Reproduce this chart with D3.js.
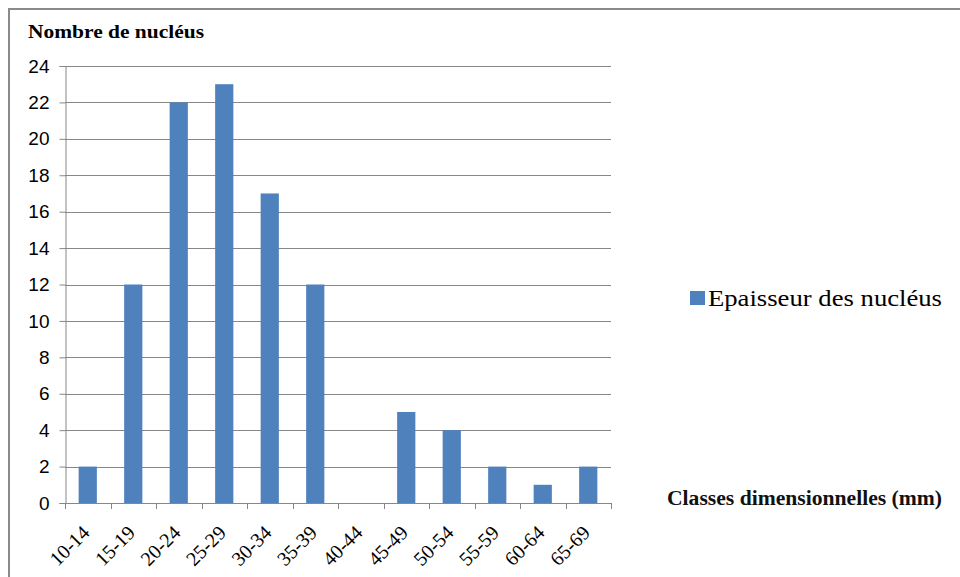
<!DOCTYPE html>
<html><head><meta charset="utf-8">
<script src="https://cdn.jsdelivr.net/npm/d3@7"></script>
<style>body{margin:0;background:#fff;} svg{display:block;}</style>
</head><body>
<svg id="chart" width="960" height="577"></svg>
<script>
const categories = ["10-14","15-19","20-24","25-29","30-34","35-39","40-44","45-49","50-54","55-59","60-64","65-69"];
const values = [2,12,22,23,17,12,0,5,4,2,1,2];
const yTicks = [0,2,4,6,8,10,12,14,16,18,20,22,24];
const seriesName = "Epaisseur des nucléus";
const yTitle = "Nombre de nucléus";
const xTitle = "Classes dimensionnelles (mm)";

(function(){
const svg = d3.select("#chart");
const pL = 65, pR = 611, pT = 66, pB = 503;
const barColor = "#4F81BD", gridColor = "#878787";
const serif = "'Liberation Serif', 'Times New Roman', serif";

svg.append("rect").attr("x",9).attr("y",9).attr("width",1000).attr("height",1000)
  .attr("fill","#fff").attr("stroke","#8a8a8a").attr("stroke-width",2);

const x = d3.scaleBand().domain(categories).range([pL,pR]).paddingInner(0.6).paddingOuter(0.3);
const y = d3.scaleLinear().domain([0,24]).range([pB,pT]);

// gridlines
svg.append("g").selectAll("line").data(yTicks.filter(d=>d>0)).join("line")
  .attr("x1",pL).attr("x2",pR).attr("y1",d=>Math.round(y(d))+0.5).attr("y2",d=>Math.round(y(d))+0.5)
  .attr("stroke",gridColor).attr("stroke-width",1);

// bars
svg.append("g").selectAll("rect").data(values).join("rect")
  .attr("x",(d,i)=>x(categories[i])).attr("width",x.bandwidth())
  .attr("y",d=>y(d)).attr("height",d=>pB-y(d))
  .attr("fill",barColor);

// y axis
const yAxis = d3.axisLeft(y).tickValues(yTicks).tickSize(6).tickPadding(10);
const gy = svg.append("g").attr("transform",`translate(${pL+0.5},0)`).call(yAxis);
gy.attr("font-size",null).attr("font-family",null);
gy.select(".domain").attr("stroke",gridColor);
gy.selectAll(".tick line").attr("stroke",gridColor);
gy.selectAll("text").style("font-family","'Liberation Sans', Arial, sans-serif").style("font-size","19px").attr("fill","#000");

// x axis
const step = x.step();
const boundaries = d3.range(categories.length+1).map(i=>pL+i*step);
const gx = svg.append("g");
gx.append("line").attr("x1",pL).attr("x2",pR).attr("y1",pB+0.5).attr("y2",pB+0.5).attr("stroke",gridColor);
gx.selectAll("line.t").data(boundaries).join("line").attr("class","t")
  .attr("x1",d=>Math.round(d)+0.5).attr("x2",d=>Math.round(d)+0.5).attr("y1",pB).attr("y2",pB+6).attr("stroke",gridColor);
gx.selectAll("text").data(categories).join("text")
  .attr("transform",d=>`translate(${x(d)+x.bandwidth()/2+3},${pB+31}) rotate(-45)`)
  .attr("text-anchor","end").style("font-family",serif)
  .style("font-size","20px").attr("fill","#000").text(d=>d);

// titles
svg.append("text").attr("x",28).attr("y",38).style("font-family",serif)
  .attr("font-weight","bold").style("font-size","19px").attr("textLength",176).attr("lengthAdjust","spacingAndGlyphs")
  .attr("fill","#000").text(yTitle);
svg.append("text").attr("x",667).attr("y",505).style("font-family",serif)
  .attr("font-weight","bold").style("font-size","20px").attr("textLength",275).attr("lengthAdjust","spacingAndGlyphs")
  .attr("fill","#111").text(xTitle);

// legend
svg.append("rect").attr("x",690).attr("y",291).attr("width",15).attr("height",14).attr("fill",barColor);
svg.append("text").attr("x",708).attr("y",306).style("font-family",serif)
  .style("font-size","24px").attr("textLength",234).attr("lengthAdjust","spacingAndGlyphs")
  .attr("fill","#000").text(seriesName);
})();
</script>
</body></html>
